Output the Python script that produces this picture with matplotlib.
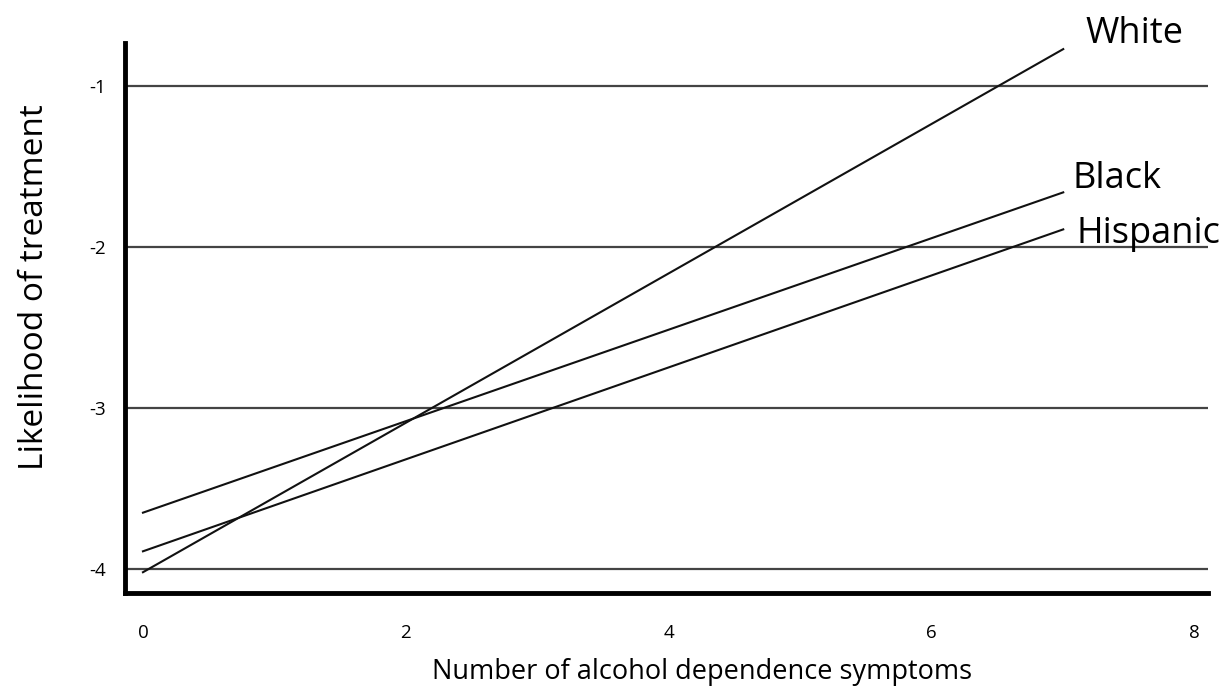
import matplotlib.pyplot as plt

# --- DATA ---
x_symptoms = [0, 7]
white = [-4.02, -0.77]
black = [-3.65, -1.66]
hispanic = [-3.89, -1.89]
group_names = ['White', 'Black', 'Hispanic']
x_ticks = [0, 2, 4, 6, 8]
y_ticks = [-1, -2, -3, -4]

plt.rcParams['font.family'] = ['Open Sans', 'DejaVu Sans']

fig = plt.figure(figsize=(12.25, 6.96), dpi=100)
ax = fig.add_axes([0.102, 0.148, 0.884, 0.790])

# garis data
for vals in [white, black, hispanic]:
    ax.plot(x_symptoms, vals, color='#111111', lw=1.5, zorder=3)

# label tiap grup di ujung garis
label_pos = {'White': (7.17, -0.73), 'Black': (7.07, -1.635), 'Hispanic': (7.1, -1.975)}
for name in group_names:
    lx, ly = label_pos[name]
    ax.text(lx, ly, name, fontsize=26, va='baseline', ha='left', clip_on=False)

ax.set_xlim(-0.137, 8.1)
ax.set_ylim(-4.149, -0.733)
ax.set_xticks(x_ticks)
ax.set_yticks(y_ticks)
ax.set_yticklabels([str(v) for v in y_ticks])

ax.grid(axis='y', color='#444444', lw=1.6)
ax.set_axisbelow(True)

for side in ['top', 'right']:
    ax.spines[side].set_visible(False)
for side in ['left', 'bottom']:
    ax.spines[side].set_linewidth(3.5)
    ax.spines[side].set_color('black')

ax.tick_params(axis='x', length=0, pad=22, labelsize=13.5)
ax.tick_params(axis='y', length=0, pad=14, labelsize=13.5)

ax.set_xlabel('Number of alcohol dependence symptoms', fontsize=19.5)
ax.set_ylabel('Likelihood of treatment', fontsize=24)
ax.xaxis.set_label_coords(0.533, -0.118)
ax.yaxis.set_label_coords(-0.068, 0.556)

plt.savefig('out.png', dpi=100)
